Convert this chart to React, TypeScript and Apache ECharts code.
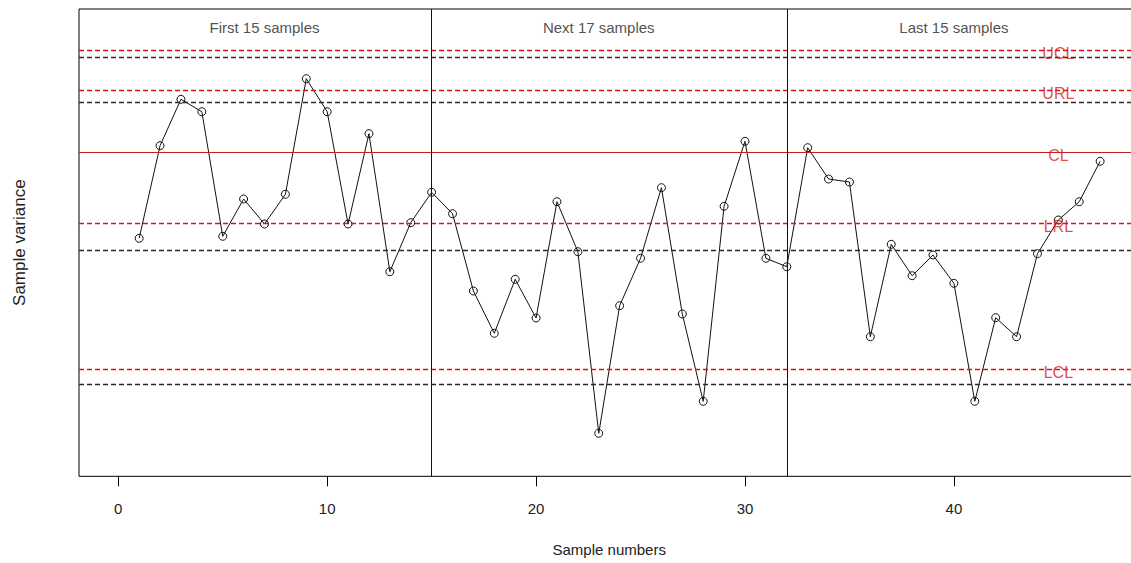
import React, { useEffect, useRef } from "react";
import * as echarts from "echarts";

// Sample variances, samples 1..47
const sampleVariance = [
  2.38, 3.306, 3.77, 3.646, 2.4, 2.773, 2.523, 2.82, 3.976, 3.646,
  2.523, 3.426, 2.046, 2.536, 2.84, 2.626, 1.853, 1.43, 1.97, 1.583,
  2.746, 2.246, 0.43, 1.706, 2.18, 2.886, 1.623, 0.75, 2.7, 3.35,
  2.18, 2.096, 3.286, 2.973, 2.943, 1.396, 2.32, 2.006, 2.213, 1.93,
  0.75, 1.586, 1.396, 2.226, 2.563, 2.746, 3.15,
];

// Red control / reference limits
const limitNames = ["UCL", "URL", "CL", "LRL", "LCL"];
const limitValues = [4.263, 3.856, 3.236, 2.53, 1.07];
// Black dashed limits
const blackLimitValues = [4.186, 3.736, 2.256, 0.923];

// Section dividers and labels
const dividers = [15, 32];
const sectionLabels = ["First 15 samples", "Next 17 samples", "Last 15 samples"];
const sectionCenters = [7, 23, 40];
const sectionLabelY = 4.488;
const limitLabelX = 45;

// X axis ticks
const xTicks = [0, 10, 20, 30, 40];

const FONT = "'Liberation Sans', Arial, sans-serif";

export default function App() {
  const ref = useRef<HTMLDivElement>(null);

  useEffect(() => {
    if (!ref.current) return;
    const chart = echarts.init(ref.current, undefined, { renderer: "svg" });

    const markLineData: any[] = [];
    limitValues.forEach((v, i) => {
      const isCL = limitNames[i] === "CL";
      markLineData.push({
        yAxis: v,
        lineStyle: {
          color: isCL ? "#c81e1e" : "#e01010",
          type: isCL ? "solid" : [5, 3],
          width: isCL ? 1.2 : 1.3,
        },
      });
    });
    blackLimitValues.forEach((v) => {
      markLineData.push({
        yAxis: v,
        lineStyle: { color: "#2a2a2a", type: [5, 3], width: 1.3 },
      });
    });
    dividers.forEach((d) => {
      markLineData.push({
        xAxis: d,
        lineStyle: { color: "#111", type: "solid", width: 1 },
      });
    });

    const option: any = {
      animation: false,
      grid: {
        left: 79,
        top: 9,
        right: 5.6,
        bottom: 86.7,
        show: true,
        borderColor: "#000",
        borderWidth: 1,
        backgroundColor: "transparent",
      },
      xAxis: {
        type: "value",
        min: -1.88,
        max: 48.88,
        name: "Sample numbers",
        nameLocation: "middle",
        nameGap: 66,
        nameTextStyle: { fontFamily: FONT, fontSize: 15, color: "#222" },
        axisLine: { show: false },
        axisTick: {
          show: true,
          length: 10,
          customValues: xTicks,
          lineStyle: { color: "#000", width: 1 },
        },
        axisLabel: {
          customValues: xTicks,
          margin: 25,
          fontFamily: FONT,
          fontSize: 15,
          color: "#222",
        },
        splitLine: { show: false },
      },
      yAxis: {
        type: "value",
        min: 0,
        max: 4.673,
        name: "Sample variance",
        nameLocation: "middle",
        nameGap: 51,
        nameTextStyle: { fontFamily: FONT, fontSize: 17, color: "#222" },
        axisLine: { show: false },
        axisTick: { show: false },
        axisLabel: { show: false },
        splitLine: { show: false },
      },
      series: [
        {
          type: "line",
          name: "variance",
          data: sampleVariance.map((v, i) => [i + 1, v]),
          symbol: "circle",
          symbolSize: 8,
          itemStyle: { color: "transparent", borderColor: "#111", borderWidth: 1 },
          lineStyle: { color: "#111", width: 1 },
          silent: true,
          z: 4,
          markLine: {
            silent: true,
            symbol: ["none", "none"],
            label: { show: false },
            emphasis: { disabled: true },
            data: markLineData,
          },
        },
        {
          type: "scatter",
          name: "sections",
          silent: true,
          symbolSize: 1,
          itemStyle: { color: "transparent" },
          data: sectionCenters.map((x, i) => ({ value: [x, sectionLabelY], name: sectionLabels[i] })),
          label: {
            show: true,
            position: "inside",
            formatter: "{b}",
            fontFamily: FONT,
            fontSize: 15,
            color: "#222",
          },
          z: 5,
        },
        {
          type: "scatter",
          name: "limitLabels",
          silent: true,
          symbolSize: 1,
          itemStyle: { color: "transparent" },
          data: limitValues.map((v, i) => ({ value: [limitLabelX, v], name: limitNames[i] })),
          label: {
            show: true,
            position: "inside",
            formatter: "{b}",
            offset: [0, 3],
            fontFamily: FONT,
            fontSize: 16,
            color: "#d41e1e",
          },
          z: 5,
        },
      ],
    };

    chart.setOption(option);
    return () => chart.dispose();
  }, []);

  return (
    <div
      style={{
        position: "fixed",
        left: 0,
        top: 0,
        width: 1131,
        height: 563,
        overflow: "hidden",
        background: "#fff",
      }}
    >
      <div ref={ref} style={{ width: 1145, height: 563 }} />
    </div>
  );
}
